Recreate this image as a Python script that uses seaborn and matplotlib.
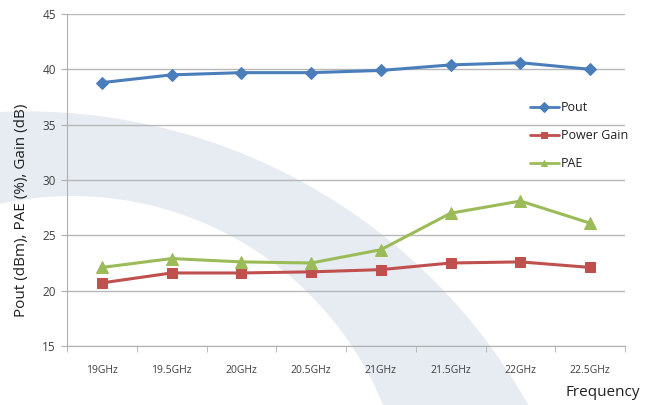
import numpy as np
import pandas as pd
import matplotlib
matplotlib.use("Agg")
import matplotlib.pyplot as plt
from matplotlib.patches import Polygon
import seaborn as sns

categories = ["19GHz", "19.5GHz", "20GHz", "20.5GHz", "21GHz", "21.5GHz", "22GHz", "22.5GHz"]
pout = [38.8, 39.5, 39.7, 39.7, 39.9, 40.4, 40.6, 40.0]
power_gain = [20.7, 21.6, 21.6, 21.7, 21.9, 22.5, 22.6, 22.1]
pae = [22.1, 22.9, 22.6, 22.5, 23.7, 27.0, 28.1, 26.1]
series_names = ["Pout", "Power Gain", "PAE"]
yticks = [15, 20, 25, 30, 35, 40, 45]

sns.set_style("white")
plt.rcParams['font.family'] = ['Open Sans', 'DejaVu Sans']

W, H = 652, 405
fig = plt.figure(figsize=(W / 100, H / 100), dpi=100)
fig.patch.set_facecolor("white")

# decorative background swoosh (pixel geometry -> figure coords)
def arc(cx, cy, r, a0, a1, n=200):
    t = np.radians(np.linspace(a0, a1, n))
    x = cx + r * np.cos(t)
    y = cy - r * np.sin(t)
    return np.column_stack([x / W, 1 - y / H])

outer = arc(25.9, 688, 576.6, 100, 20)
inner = arc(72, 532, 336, 10, 115)
band = Polygon(np.vstack([outer, inner]), closed=True, transform=fig.transFigure,
               facecolor="#e7ecf2", edgecolor="none", zorder=0)
fig.add_artist(band)

ax = fig.add_axes([67 / W, 1 - 346 / H, (625 - 67) / W, (346 - 14) / H])
ax.set_facecolor("none")
ax.set_zorder(1)

df = pd.DataFrame({
    "x": list(range(len(categories))) * 3,
    "value": pout + power_gain + pae,
    "series": [series_names[0]] * 8 + [series_names[1]] * 8 + [series_names[2]] * 8,
})
palette = {"Pout": "#4a7ebb", "Power Gain": "#c0504d", "PAE": "#9bbb59"}
markers = {"Pout": "D", "Power Gain": "s", "PAE": "^"}
sizes = {"Pout": 6, "Power Gain": 7.5, "PAE": 8}

for name in series_names:
    sub = df[df["series"] == name]
    sns.lineplot(data=sub, x="x", y="value", ax=ax, color=palette[name],
                 marker=markers[name], markersize=sizes[name], markeredgecolor=palette[name],
                 linewidth=2.2, label=name, zorder=3)

ax.set_xlim(-0.5, len(categories) - 0.5)
ax.set_ylim(15, 45)
ax.set_yticks(yticks)
ax.yaxis.grid(True, color="#b8b8b8", linewidth=1.0)
ax.xaxis.grid(False)
ax.set_axisbelow(True)

ax.set_xticks(range(len(categories)))
ax.set_xticklabels(categories)
ax.set_xticks(np.arange(-0.5, len(categories), 1.0), minor=True)
ax.tick_params(axis="x", which="major", length=0, pad=14, labelsize=7.5, labelcolor="#404040")
ax.tick_params(axis="x", which="minor", length=4, color="#b0b0b0", direction="out", bottom=True)
ax.tick_params(axis="y", length=4, color="#b0b0b0", direction="out", left=True,
               labelsize=8.5, labelcolor="#404040", pad=4)

for s in ["top", "right"]:
    ax.spines[s].set_visible(False)
ax.spines["left"].set_color("#b0b0b0")
ax.spines["bottom"].set_color("#b0b0b0")

ax.set_xlabel("")
ax.set_ylabel("")
fig.text(22 / W, 1 - 210 / H, "Pout (dBm), PAE (%), Gain (dB)", rotation=90,
         ha="center", va="center", fontsize=11, color="#202020")
fig.text(640 / W, 1 - 392 / H, "Frequency", ha="right", va="center",
         fontsize=11, color="#202020")

leg = ax.legend(loc="upper left", bbox_to_anchor=(525 / W, 1 - 96 / H),
                bbox_transform=fig.transFigure, frameon=False, fontsize=9,
                labelspacing=1.2, handlelength=2.3, handletextpad=0.15,
                borderaxespad=0)
for h in leg.legend_handles:
    h.set_markersize(5)
    h.set_linewidth(2)
for t in leg.get_texts():
    t.set_color("#202020")

fig.savefig("out.png", dpi=100)
